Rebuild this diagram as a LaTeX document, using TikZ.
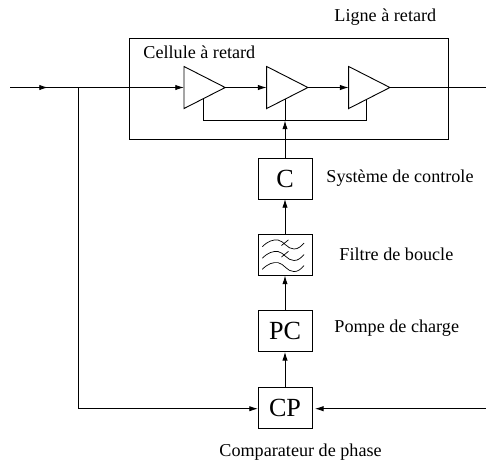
\documentclass[tikz,border=0pt]{standalone}
\usepackage{fontspec}
\setmainfont{Liberation Serif}
\usetikzlibrary{arrows.meta, shapes.geometric}
\tikzset{
  fleche/.style   = {-{Latex[length=6.2pt, width=3.8pt]}},
  bloc/.style     = {draw, minimum width=1.35cm, minimum height=1.025cm, inner sep=0pt, outer sep=0pt, font=\fontsize{18.6}{20}\selectfont},
  ampli/.style    = {draw, isosceles triangle, isosceles triangle stretches, shape border rotate=0, minimum width=1.05cm, minimum height=1.03cm, inner sep=0pt, outer sep=0pt, anchor=lower side},
  legende/.style  = {font=\fontsize{12.9}{14}\selectfont, inner sep=0pt, anchor=west}
}

\begin{document}
\begin{tikzpicture}[x=0.025cm, y=-0.025cm, line width=0.65pt]
  \useasboundingbox (0,0) rectangle (486,463);

  \node[draw, minimum width=7.96cm, minimum height=2.51cm, inner sep=0pt] (ligne) at (288.75,88.75) {};

  \coordinate (entree) at (10,87.5);
  \coordinate (fleche0) at (48,87.5);
  \coordinate (noeud) at (78,87.5);
  \coordinate (sortie) at (486,87.5);
  \coordinate (retour) at (285,120.5);
  \coordinate (cmd1) at (203.3,98.8);
  \coordinate (cmd2) at (285,98.8);
  \coordinate (cmd3) at (366.7,98.8);
  \coordinate (coin) at (78,408.7);
  \coordinate (droite) at (486,408.7);

  \node[ampli] (a1) at (184,87.5) {};
  \node[ampli] (a2) at (266.7,87.5) {};
  \node[ampli] (a3) at (348.7,87.5) {};

  \node[bloc] (C) at (285,178.5) {C};
  \node[bloc] (F) at (285,255) {};
  \node[bloc] (PC) at (285,331.3) {PC};
  \node[bloc] (CP) at (285,407.5) {CP};

  % reseau de courbes du filtre
  \foreach \dy/\tr in {0/1,11.5/1,22.6/0}{
    \draw[line width=0.5pt, yshift=\dy*-0.025cm] (262.3,246.7) .. controls (268,241) and (273,239.5) .. (278,240)
      .. controls (284,241) and (287,249) .. (294,249) .. controls (298,249) and (301,246.5) .. (304,243);
    \ifnum\tr=1
      \draw[line width=0.5pt, yshift=\dy*-0.025cm] (281.5,245.5) -- (288.5,239.8);
    \fi
  }

  \draw (entree) -- (noeud);
  \draw[fleche] (entree) -- (fleche0);
  \draw[fleche] (noeud) -- (a1.lower side);
  \draw[fleche] (a1.apex) -- (a2.lower side);
  \draw[fleche] (a2.apex) -- (a3.lower side);
  \draw (a3.apex) -- (sortie);

  \draw (cmd1) |- (retour) -| (cmd3);
  \draw (retour) -- (cmd2);
  \draw[fleche] (C.north) -- (retour);
  \draw[fleche] (F.north) -- (C.south);
  \draw[fleche] (PC.north) -- (F.south);
  \draw[fleche] (CP.north) -- (PC.south);

  \draw (noeud) -- (coin);
  \draw[fleche] (coin) -- (CP.west |- coin);
  \draw[fleche, shorten >=2pt] (droite) -- (CP.east |- droite);

  \node[legende] (tligne) at (334,17) {Ligne à retard};
  \node[legende] (tcell) at (143,52) {Cellule à retard};
  \node[legende] (tsys) at (326,178) {Système de controle};
  \node[legende] (tfil) at (339,254) {Filtre de boucle};
  \node[legende] (tpom) at (334,328) {Pompe de charge};
  \node[legende] (tcom) at (219,452) {Comparateur de phase};
\end{tikzpicture}
\end{document}
